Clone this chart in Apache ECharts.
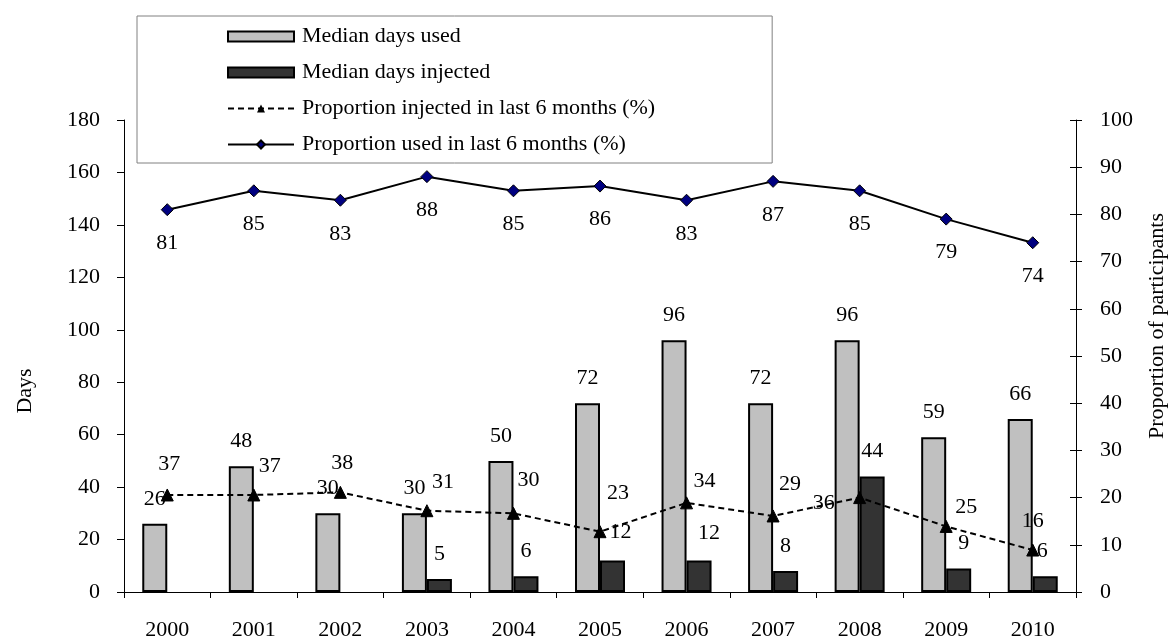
<!DOCTYPE html>
<html>
<head>
<meta charset="utf-8">
<script src="https://cdn.jsdelivr.net/npm/echarts@6/dist/echarts.min.js"></script>
<style>
  html, body { margin: 0; padding: 0; background: #fff; overflow: hidden; }
  #chart { width: 1168px; height: 637px; }
</style>
</head>
<body>
<div id="chart"></div>
<script>
// Survey years
const years = ['2000', '2001', '2002', '2003', '2004', '2005', '2006', '2007', '2008', '2009', '2010'];
// Median days used / injected (left axis, days)
const medianDaysUsed = [26, 48, 30, 30, 50, 72, 96, 72, 96, 59, 66];
const medianDaysInjected = [null, null, null, 5, 6, 12, 12, 8, 44, 9, 6];
// Proportion injected in last 6 months (%) — drawn against the days axis
const propInjected = [37, 37, 38, 31, 30, 23, 34, 29, 36, 25, 16];
// Proportion used in last 6 months (%) — right axis
const propUsed = [81, 85, 83, 88, 85, 86, 83, 87, 85, 79, 74];
// Axis ticks
const daysTicks = { min: 0, max: 180, interval: 20 };
const pctTicks = { min: 0, max: 100, interval: 10 };

// Label nudges (dx, dy) so overlapping labels stay readable
const injPctLabelNudge = [[2, -31], [16, -29], [2, -29], [16, -28], [15, -33], [18, -38], [18, -22], [17, -32], [-36, 6], [20, -19], [0, -29]];
const injDaysLabelNudge = [[0, 0], [0, 0], [0, 0], [0, 0], [0, 0], [8, -3], [10, -2], [0, 0], [0, 0], [5, 0], [-3, 0]];

const FONT = 'Liberation Serif';
const FS = 22;

const chart = echarts.init(document.getElementById('chart'), null, { renderer: 'canvas' });

const names = [
  'Median days used',
  'Median days injected',
  'Proportion injected in last 6 months (%)',
  'Proportion used in last 6 months (%)'
];

const option = {
  animation: false,
  backgroundColor: '#fff',
  textStyle: { fontFamily: FONT, color: '#000' },
  grid: { left: 124, right: 92, top: 120, bottom: 45, containLabel: false, outerBoundsMode: 'none' },
  legend: {
    orient: 'vertical',
    left: 137,
    top: 16,
    padding: [9, 117, 7, 90],
    borderColor: '#808080',
    borderWidth: 1,
    itemWidth: 66,
    itemHeight: 10,
    itemGap: 13,
    textStyle: { fontFamily: FONT, fontSize: FS, color: '#000', lineHeight: 23, padding: [0, 0, 0, 3] },
    data: [
      { name: names[0], icon: 'rect', itemStyle: { color: '#c0c0c0', borderColor: '#000', borderWidth: 2 } },
      { name: names[1], icon: 'rect', itemStyle: { color: '#333333', borderColor: '#000', borderWidth: 2 } },
      { name: names[2] },
      { name: names[3] }
    ]
  },
  xAxis: {
    type: 'category',
    data: years,
    boundaryGap: true,
    axisLine: { lineStyle: { color: '#000', width: 1 } },
    axisTick: { show: true, alignWithLabel: false, length: 6, lineStyle: { color: '#000' } },
    axisLabel: { fontFamily: FONT, fontSize: FS, color: '#000', margin: 27 },
    splitLine: { show: false }
  },
  yAxis: [
    {
      type: 'value',
      position: 'left',
      min: daysTicks.min, max: daysTicks.max, interval: daysTicks.interval,
      name: 'Days',
      nameLocation: 'middle',
      nameGap: 88,
      nameTextStyle: { fontFamily: FONT, fontSize: FS, color: '#000', padding: [0, 70, 0, 0] },
      axisLine: { show: true, lineStyle: { color: '#000' } },
      axisTick: { show: true, length: 7, lineStyle: { color: '#000' } },
      axisLabel: { fontFamily: FONT, fontSize: FS, color: '#000', margin: 24 },
      splitLine: { show: false }
    },
    {
      type: 'value',
      position: 'right',
      min: pctTicks.min, max: pctTicks.max, interval: pctTicks.interval,
      name: 'Proportion of participants',
      nameLocation: 'middle',
      nameGap: 70,
      nameRotate: 90,
      nameTextStyle: { fontFamily: FONT, fontSize: FS, color: '#000', padding: [0, 0, 0, 60] },
      axisLine: { show: true, lineStyle: { color: '#000' } },
      axisTick: { show: true, length: 6, lineStyle: { color: '#000' } },
      axisLabel: { fontFamily: FONT, fontSize: FS, color: '#000', margin: 24 },
      splitLine: { show: false }
    },
    {
      // inner half of the right axis's crossing tick marks
      type: 'value',
      position: 'right',
      min: pctTicks.min, max: pctTicks.max, interval: pctTicks.interval,
      axisLine: { show: false },
      axisTick: { show: true, inside: true, length: 6, lineStyle: { color: '#000' } },
      axisLabel: { show: false },
      splitLine: { show: false }
    }
  ],
  series: [
    {
      name: names[0],
      type: 'bar',
      yAxisIndex: 0,
      data: medianDaysUsed,
      barWidth: 25,
      barGap: '0%',
      itemStyle: { color: '#c0c0c0', borderColor: '#000', borderWidth: 2 },
      label: { show: true, position: 'top', distance: 14, fontFamily: FONT, fontSize: FS, color: '#000' },
      z: 2
    },
    {
      name: names[1],
      type: 'bar',
      yAxisIndex: 0,
      data: medianDaysInjected.map((v, i) => ({
        value: v,
        label: { offset: injDaysLabelNudge[i] }
      })),
      barWidth: 25,
      barGap: '0%',
      itemStyle: { color: '#333333', borderColor: '#000', borderWidth: 2 },
      label: { show: true, position: 'top', distance: 14, fontFamily: FONT, fontSize: FS, color: '#000' },
      z: 2
    },
    {
      name: names[2],
      type: 'line',
      yAxisIndex: 0,
      data: propInjected.map((v, i) => ({
        value: v,
        label: { offset: injPctLabelNudge[i] }
      })),
      symbol: 'triangle',
      symbolSize: 12,
      itemStyle: { color: '#000', borderColor: '#000' },
      lineStyle: { color: '#000', width: 2, type: [6, 4] },
      label: { show: true, position: 'inside', fontFamily: FONT, fontSize: FS, color: '#000' },
      z: 5
    },
    {
      name: names[3],
      type: 'line',
      yAxisIndex: 1,
      data: propUsed,
      symbol: 'diamond',
      symbolSize: 12,
      itemStyle: { color: '#000080', borderColor: '#000', borderWidth: 1 },
      lineStyle: { color: '#000', width: 2 },
      label: { show: true, position: 'bottom', distance: 16, fontFamily: FONT, fontSize: FS, color: '#000' },
      z: 5
    }
  ]
};

chart.setOption(option);
</script>
</body>
</html>
